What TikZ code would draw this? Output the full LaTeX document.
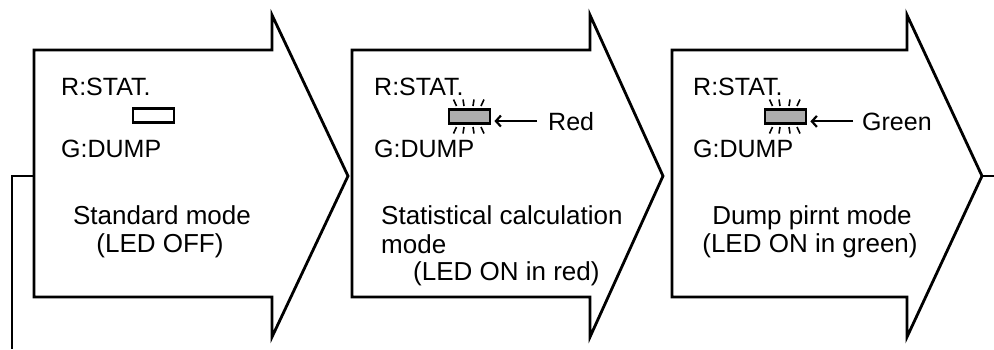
\documentclass[tikz,border=0pt]{standalone}
\usepackage{fontspec}
\setmainfont{Liberation Sans}
\usetikzlibrary{arrows.meta}
\newcommand\myledrays[1]{%
  \foreach \a/\b in {-16/-13, -6.5/-5.5, 4.5/3.5, 14.5/11.5} {%
    \draw[ray] ([shift={(\a,-17)}]#1.center) -- ([shift={(\b,-10.5)}]#1.center);
    \draw[ray] ([shift={(\a,17)}]#1.center) -- ([shift={(\b,10.5)}]#1.center);
  }}
\begin{document}
\begin{tikzpicture}[x=1pt,y=-1pt,
  modearrow/.style={draw=black,line width=2.8pt,line join=miter,fill=white},
  lbl/.style={inner sep=0pt,anchor=base west,font=\fontsize{25}{28}\selectfont},
  desc/.style={inner sep=0pt,font=\fontsize{26}{28}\selectfont},
  led/.style={draw=black,line width=2.8pt,minimum width=41pt,minimum height=14.5pt,inner sep=0pt},
  ledon/.style={led,fill=black!32},
  ray/.style={line width=1.6pt},
  pointer/.style={line width=2.2pt,shorten >=3pt,-{Straight Barb[length=5pt,width=11pt,line width=2.2pt]}},
  link/.style={line width=2.8pt}]
\useasboundingbox (0,0) rectangle (994,349);
% mode arrows
\draw[modearrow] (34,50) -- (272,50) -- (272,15) -- (348,176) -- (272,337) -- (272,297) -- (34,297) -- cycle;
\draw[modearrow] (352,50) -- (590,50) -- (590,15) -- (663,176) -- (590,337) -- (590,297) -- (352,297) -- cycle;
\draw[modearrow] (672,50) -- (907,50) -- (907,15) -- (982,176) -- (907,337) -- (907,297) -- (672,297) -- cycle;
\coordinate (a1w) at (34,176);
\coordinate (loopend) at (12,349);
\coordinate (a3tip) at (982,176);
\coordinate (rightend) at (994,176);
\draw[link] (a1w) -| (loopend);
\draw[link] (a3tip) -- (rightend);
% arrow 1
\node[lbl] (r1) at (61,95) {R:STAT.};
\node[led] (led1) at (153.5,115.5) {};
\node[lbl] (g1) at (61,157) {G:DUMP};
\node[desc,anchor=base] (d1a) at (162,224) {Standard mode};
\node[desc,anchor=base] (d1b) at (160,252) {(LED OFF)};
% arrow 2
\node[lbl] (r2) at (374,95) {R:STAT.};
\node[ledon] (led2) at (469.5,116.5) {};
\myledrays{led2}
\node[lbl] (g2) at (374,157) {G:DUMP};
\node[lbl] (red) at (548,130) {Red};
\draw[pointer] ([xshift=-11pt]red.west) -- (led2.east |- red.west);
\node[desc,anchor=base west] (d2a) at (381,224) {Statistical calculation};
\node[desc,anchor=base west] (d2b) at (381,253) {mode};
\node[desc,anchor=base west] (d2c) at (413,280) {(LED ON in red)};
% arrow 3
\node[lbl] (r3) at (693,95) {R:STAT.};
\node[ledon] (led3) at (785.5,116.5) {};
\myledrays{led3}
\node[lbl] (g3) at (693,157) {G:DUMP};
\node[lbl] (green) at (862,130) {Green};
\draw[pointer] ([xshift=-9pt]green.west) -- (led3.east |- green.west);
\node[desc,anchor=base] (d3a) at (812,224) {Dump pirnt mode};
\node[desc,anchor=base] (d3b) at (810,252) {(LED ON in green)};
\end{tikzpicture}
\end{document}
